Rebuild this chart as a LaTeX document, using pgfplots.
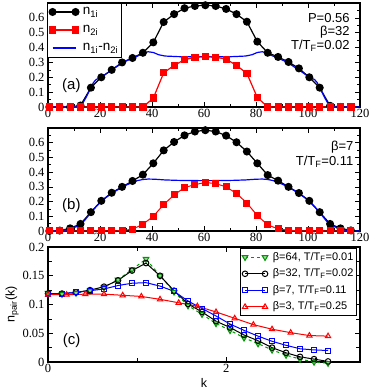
\documentclass[border=0pt]{standalone}
\usepackage{fontspec}
\setmainfont{Liberation Sans}
\newfontfamily\tnr{Liberation Serif}
\usepackage{pgfplots}
\pgfplotsset{compat=1.18}
\definecolor{dgreen}{RGB}{0,150,0}
\pgfplotsset{
  panel/.style={
    scale only axis, width=312pt, anchor=south west, clip=false,
    axis line style={line width=1.4pt},
    tick align=inside,
    tick style={line width=0.6pt, black},
    major tick length=5pt, minor tick length=3pt,
    tick label style={font=\tnr\fontsize{12.5}{12.5}\selectfont},
    xticklabel style={yshift=1pt},
    /pgf/number format/assume math mode=true,
    yticklabel style={/pgf/number format/fixed, /pgf/number format/precision=3},
    scaled y ticks=false,
    legend image code/.code={\draw[##1] plot coordinates {(0pt,0pt) (23pt,0pt)};},
    legend style={draw=black, line width=0.8pt, fill=white,
      font=\fontsize{13.5}{15}\selectfont, row sep=4pt, column sep=3pt, inner sep=2pt,
      nodes={inner sep=1pt, text height=9pt, text depth=3pt},
      cells={anchor=west}},
  },
  site/.style={panel, xmin=0, xmax=120, ymin=0, ymax=0.7,
    xtick={0,20,...,120}, minor xtick={10,30,...,110},
    ytick={0,0.1,...,0.61}, minor ytick={0.05,0.15,...,0.66}},
}
\tikzset{
  note/.style={anchor=east, font=\fontsize{13}{14}\selectfont},
  tag/.style={font=\fontsize{15}{16}\selectfont},
}
\begin{document}
\begin{tikzpicture}
\path[use as bounding box] (0,0) rectangle (374pt,391pt);

% ---------- (a)
\begin{axis}[site, at={(48pt,284pt)}, height=104pt,
  legend style={at={(-0.004,1.004)}, anchor=north west}]
\addplot[black, line width=1.2pt, mark=*, mark size=3.4pt] coordinates {
 (0.5,0) (4.5,0) (8.5,0) (12.5,0.01) (16.5,0.13) (20.5,0.20) (24.5,0.25)
 (28.5,0.30) (32.5,0.33) (36.5,0.365) (40.5,0.435) (44.5,0.572) (48.5,0.625)
 (52.5,0.665) (56.5,0.68) (60.5,0.685) (64.5,0.68) (68.5,0.66) (72.5,0.625)
 (76.5,0.574) (80.5,0.44) (84.5,0.365) (88.5,0.337) (92.5,0.303) (96.5,0.26)
 (100.5,0.20) (104.5,0.13) (108.5,0.008) (112.5,0) (116.5,0)};
\addlegendentry{n\textsubscript{1i}}
\addplot[red, line width=1.2pt, mark=square*, mark size=3pt] coordinates {
 (0.5,0) (4.5,0) (8.5,0) (12.5,0) (16.5,0) (20.5,0) (24.5,0) (28.5,0)
 (32.5,0) (36.5,0) (40.5,0.06) (44.5,0.23) (48.5,0.28) (52.5,0.318)
 (56.5,0.335) (60.5,0.34) (64.5,0.335) (68.5,0.322) (72.5,0.28) (76.5,0.226)
 (80.5,0.064) (84.5,0) (88.5,0) (92.5,0) (96.5,0) (100.5,0) (104.5,0)
 (108.5,0) (112.5,0) (116.5,0)};
\addlegendentry{n\textsubscript{2i}}
\addplot[blue, line width=1.2pt] coordinates {
 (0,0) (11.5,0) (12.5,0.01) (13.5,0.03) (14.5,0.06) (15.5,0.095) (16.5,0.13)
 (17.5,0.165) (18.5,0.185) (20.5,0.20) (22.5,0.225) (24.5,0.25) (26.5,0.272)
 (28.5,0.297) (30.5,0.313) (32.5,0.33) (34.5,0.343) (36.5,0.36) (38.5,0.372)
 (40.5,0.367) (42.5,0.352) (45,0.343) (50,0.339) (60.5,0.337) (71,0.339)
 (76,0.343) (78.5,0.352) (80.5,0.367) (82.5,0.372) (84.5,0.36) (86.5,0.343)
 (88.5,0.33) (90.5,0.313) (92.5,0.297) (94.5,0.272) (96.5,0.25) (98.5,0.225)
 (100.5,0.20) (102.5,0.185) (103.5,0.165) (104.5,0.13) (105.5,0.095)
 (106.5,0.06) (107.5,0.03) (108.5,0.01) (109.5,0) (120,0)};
\addlegendentry{n\textsubscript{1i}-n\textsubscript{2i}}
\node[note] at (rel axis cs:0.978,0.855) {P=0.56};
\node[note] at (rel axis cs:0.978,0.72) {β=32};
\node[note] at (rel axis cs:0.978,0.585) {T/T\textsubscript{F}=0.02};
\node[tag] at (rel axis cs:0.075,0.21) {(a)};
\end{axis}

% ---------- (b)
\begin{axis}[site, at={(48pt,160pt)}, height=103pt]
\addplot[black, line width=1.2pt, mark=*, mark size=3.4pt] coordinates {
 (0.5,0) (4.5,0.003) (8.5,0.018) (12.5,0.048) (16.5,0.128) (20.5,0.205)
 (24.5,0.26) (28.5,0.30) (32.5,0.34) (36.5,0.383) (40.5,0.46) (44.5,0.548)
 (48.5,0.605) (52.5,0.65) (56.5,0.676) (60.5,0.685) (64.5,0.676) (68.5,0.648)
 (72.5,0.603) (76.5,0.54) (80.5,0.46) (84.5,0.38) (88.5,0.342) (92.5,0.30)
 (96.5,0.258) (100.5,0.205) (104.5,0.128) (108.5,0.048) (112.5,0.018) (116.5,0.004)};
\addplot[red, line width=1pt, mark=square*, mark size=3pt] coordinates {
 (0.5,0) (4.5,0) (8.5,0) (12.5,0) (16.5,0) (20.5,0) (24.5,0) (28.5,0.003)
 (32.5,0.012) (36.5,0.046) (40.5,0.10) (44.5,0.18) (48.5,0.245) (52.5,0.295)
 (56.5,0.315) (60.5,0.33) (64.5,0.322) (68.5,0.30) (72.5,0.255) (76.5,0.19)
 (80.5,0.105) (84.5,0.042) (88.5,0.014) (92.5,0.005) (96.5,0.001) (100.5,0)
 (104.5,0) (108.5,0) (112.5,0) (116.5,0)};
\addplot[blue, line width=1.2pt] coordinates {
 (0,0) (3,0) (5,0.003) (7,0.008) (9,0.018) (11,0.03) (12.5,0.045) (14,0.07)
 (16.5,0.125) (18.5,0.165) (20.5,0.2) (22.5,0.23) (24.5,0.255) (26.5,0.277)
 (28.5,0.297) (30.5,0.315) (32.5,0.33) (34.5,0.343) (36.5,0.35) (38.5,0.353)
 (41,0.352) (45,0.347) (50,0.344) (60.5,0.342) (71,0.344) (76,0.347)
 (80,0.352) (82.5,0.353) (84.5,0.35) (86.5,0.343) (88.5,0.33) (90.5,0.315)
 (92.5,0.297) (94.5,0.277) (96.5,0.255) (98.5,0.23) (100.5,0.2) (102.5,0.165)
 (104.5,0.125) (107,0.07) (108.5,0.045) (110,0.03) (112,0.018) (114,0.008)
 (116,0.003) (118,0) (120,0)};
\node[note] at (rel axis cs:0.99,0.81) {β=7};
\node[note] at (rel axis cs:0.99,0.67) {T/T\textsubscript{F}=0.11};
\node[tag] at (rel axis cs:0.075,0.25) {(b)};
\end{axis}

% ---------- (c)
\begin{axis}[panel, at={(48pt,29pt)}, height=115pt,
  xmin=0, xmax=3.5, ymin=0, ymax=0.2,
  xtick={0,2}, minor xtick={1,3},
  ytick={0,0.05,...,0.21}, minor ytick={0.025,0.075,...,0.2},
  minor tick length=4pt,
  xlabel={k}, xlabel style={font=\fontsize{12.5}{13}\selectfont, yshift=1pt},
  ylabel={n\textsubscript{pair}(k)}, ylabel style={font=\fontsize{12.5}{13}\selectfont, yshift=-3pt},
  legend image code/.code={\draw[#1] plot coordinates {(0pt,0pt) (20pt,0pt)};},
  legend style={at={(0.99,0.99)}, anchor=north east, row sep=3pt, column sep=4pt,
    font=\fontsize{11}{12}\selectfont,
    nodes={inner sep=1pt, text height=8.5pt, text depth=3pt}}]
\addplot[dgreen, line width=1pt, dashed, mark=triangle*, mark size=3.2pt,
  mark options={solid, rotate=180, fill=dgreen!40}] coordinates {
 (0,0.12) (0.1571,0.118) (0.3142,0.12) (0.4712,0.124) (0.6283,0.13)
 (0.7854,0.143) (0.9425,0.161) (1.0996,0.179) (1.2566,0.150) (1.4137,0.122)
 (1.5708,0.098) (1.7279,0.083) (1.8850,0.067) (2.0420,0.055) (2.1991,0.042)
 (2.3562,0.032) (2.5133,0.021) (2.6704,0.012) (2.8274,0.005) (2.9845,0.0)
 (3.1416,-0.002)};
\addlegendentry{β=64, T/T\textsubscript{F}=0.01}
\addplot[black, line width=1pt, mark=o, mark size=2.8pt,
  mark options={fill=white, line width=1pt}] coordinates {
 (0,0.119) (0.1571,0.119) (0.3142,0.121) (0.4712,0.125) (0.6283,0.131)
 (0.7854,0.142) (0.9425,0.159) (1.0996,0.172) (1.2566,0.150) (1.4137,0.124)
 (1.5708,0.101) (1.7279,0.087) (1.8850,0.071) (2.0420,0.060) (2.1991,0.047)
 (2.3562,0.037) (2.5133,0.025) (2.6704,0.016) (2.8274,0.009) (2.9845,0.005)
 (3.1416,0.001)};
\addlegendentry{β=32, T/T\textsubscript{F}=0.02}
\addplot[blue, line width=1pt, mark=square, mark size=2.5pt,
  mark options={fill=white, line width=1pt}] coordinates {
 (0,0.119) (0.1571,0.119) (0.3142,0.121) (0.4712,0.124) (0.6283,0.127)
 (0.7854,0.133) (0.9425,0.137) (1.0996,0.138) (1.2566,0.132) (1.4137,0.123)
 (1.5708,0.106) (1.7279,0.093) (1.8850,0.080) (2.0420,0.066) (2.1991,0.055)
 (2.3562,0.045) (2.5133,0.036) (2.6704,0.029) (2.8274,0.023) (2.9845,0.021)
 (3.1416,0.020)};
\addlegendentry{β=7, T/T\textsubscript{F}=0.11}
\addplot[red, line width=1pt, mark=triangle, mark size=3pt,
  mark options={fill=white, line width=1pt}] coordinates {
 (0,0.117) (0.2094,0.117) (0.4189,0.118) (0.6283,0.118) (0.8378,0.116)
 (1.0472,0.114) (1.2566,0.109) (1.4661,0.103) (1.6755,0.097) (1.8850,0.087)
 (2.0944,0.076) (2.3038,0.065) (2.5133,0.057) (2.7227,0.051) (2.9322,0.046)
 (3.1416,0.045)};
\addlegendentry{β=3, T/T\textsubscript{F}=0.25}
\node[tag] at (rel axis cs:0.076,0.19) {(c)};
\end{axis}
\end{tikzpicture}
\end{document}
